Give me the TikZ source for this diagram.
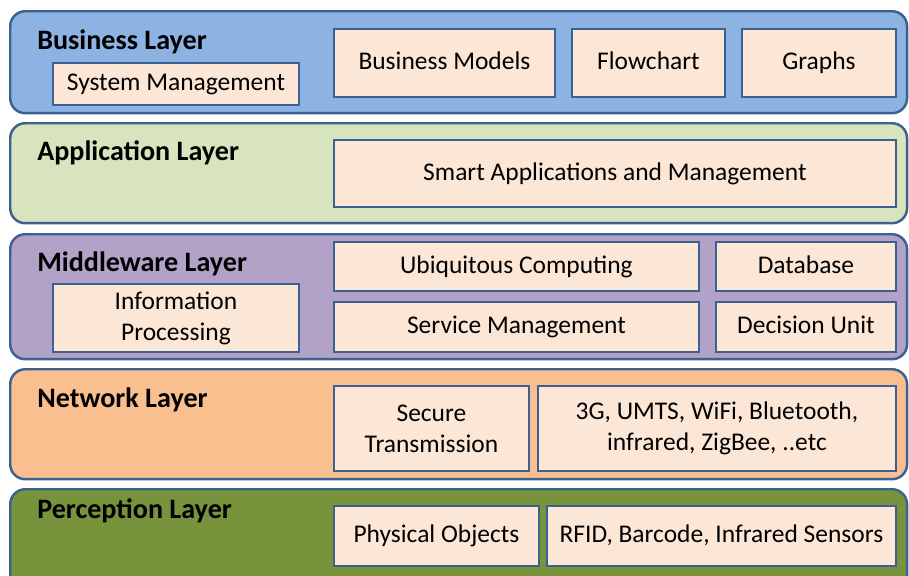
\documentclass[tikz,border=0pt]{standalone}
\usepackage{fontspec}
\setmainfont{Carlito}
\definecolor{edgeblue}{HTML}{3B6190}
\definecolor{busfill}{HTML}{8DB3E2}
\definecolor{appfill}{HTML}{D7E4BD}
\definecolor{midfill}{HTML}{B3A2C7}
\definecolor{netfill}{HTML}{F9BF8F}
\definecolor{perfill}{HTML}{77933C}
\definecolor{boxfill}{HTML}{FCE6D6}
\begin{document}
\begin{tikzpicture}[x=0.02cm, y=-0.02cm,
    layer/.style={draw=edgeblue, line width=1.4pt, rounded corners=0.3cm,
      anchor=north west, minimum width=17.94cm, inner sep=0pt},
    title/.style={anchor=west, inner sep=0pt,
      font=\fontsize{16}{19}\selectfont\bfseries},
    box/.style={draw=edgeblue, line width=1.1pt, fill=boxfill,
      anchor=north west, inner sep=0pt, align=center,
      font=\fontsize{14.5}{17.6}\selectfont},
    oneline/.style={box, text height=10.5pt, text depth=3pt}]
    \useasboundingbox (0,0) rectangle (909,575);
    \begin{scope}
        \clip (0,0) rectangle (909,575);
        \node[layer, fill=busfill, minimum height=2.04cm] (BL) at (9,10) {};
        \node[layer, fill=appfill, minimum height=2.0cm] (AL) at (9,122) {};
        \node[layer, fill=midfill, minimum height=2.5cm] (ML) at (9,233) {};
        \node[layer, fill=netfill, minimum height=2.2cm] (NL) at (9,368) {};
        \node[layer, fill=perfill, minimum height=2.4cm] (PL) at (9,488) {};
    \end{scope}
    % layer titles
    \node[title] (BLt) at (37,42) {Business Layer};
    \node[title] (ALt) at (37,153) {Application Layer};
    \node[title] (MLt) at (37,264) {Middleware Layer};
    \node[title] (NLt) at (37,400) {Network Layer};
    \node[title] (PLt) at (37,511) {Perception Layer};
    % business layer
    \node[oneline, minimum width=4.92cm, minimum height=0.84cm] (sysmgmt)
    at (52,62) {System Management};
    \node[oneline, minimum width=4.42cm, minimum height=1.36cm] (bmodels)
    at (333,28) {Business Models};
    \node[oneline, minimum width=3.06cm, minimum height=1.36cm] (flowchart)
    at (571,28) {Flowchart};
    \node[oneline, minimum width=3.08cm, minimum height=1.36cm] (graphs)
    at (741,28) {Graphs};
    % application layer
    \node[oneline, minimum width=11.24cm, minimum height=1.34cm] (smartapps)
    at (333,139) {Smart Applications and Management};
    % middleware layer
    \node[box, minimum width=4.92cm, minimum height=1.36cm] (infoproc)
    at (52,283) {Information\\Processing};
    \node[oneline, minimum width=7.30cm, minimum height=0.98cm] (ubiq)
    at (333,241) {Ubiquitous Computing};
    \node[oneline, minimum width=3.60cm, minimum height=0.98cm] (database)
    at (715,241) {Database};
    \node[oneline, minimum width=7.30cm, minimum height=1.0cm] (servmgmt)
    at (333,301) {Service Management};
    \node[oneline, minimum width=3.60cm, minimum height=1.0cm] (decision)
    at (715,301) {Decision Unit};
    % network layer
    \node[box, minimum width=3.90cm, minimum height=1.70cm] (securetx)
    at (333,385) {Secure\\Transmission};
    \node[box, minimum width=7.16cm, minimum height=1.70cm] (wireless)
    at (537,385) {3G, UMTS, WiFi, Bluetooth,\\infrared, ZigBee, ..etc};
    % perception layer
    \node[oneline, minimum width=4.10cm, minimum height=1.20cm] (physobj)
    at (333,505) {Physical Objects};
    \node[oneline, minimum width=6.98cm, minimum height=1.20cm] (rfid)
    at (546,505) {RFID, Barcode, Infrared Sensors};
\end{tikzpicture}
\end{document}
